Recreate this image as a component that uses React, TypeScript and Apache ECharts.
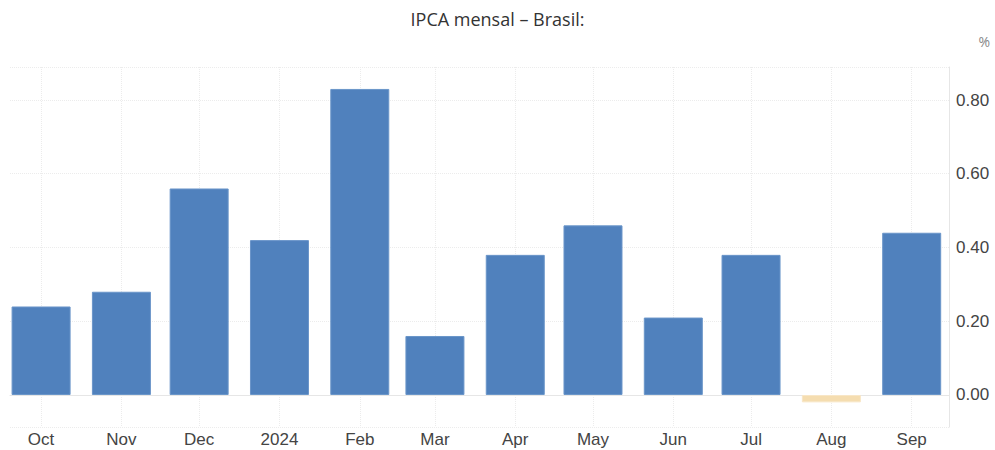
import React, { useEffect, useRef } from "react";
import * as echarts from "echarts";

const monthDates = [
  "2023-10-01", "2023-11-01", "2023-12-01", "2024-01-01", "2024-02-01", "2024-03-01",
  "2024-04-01", "2024-05-01", "2024-06-01", "2024-07-01", "2024-08-01", "2024-09-01",
];
const monthLabels = ["Oct", "Nov", "Dec", "2024", "Feb", "Mar", "Apr", "May", "Jun", "Jul", "Aug", "Sep"];
const ipcaValues = [0.24, 0.28, 0.56, 0.42, 0.83, 0.16, 0.38, 0.46, 0.21, 0.38, -0.02, 0.44];

const titleText = "IPCA mensal – Brasil:";
const unitText = "%";

const toUTC = (s: string) => {
  const [y, m, d] = s.split("-").map(Number);
  return Date.UTC(y, m - 1, d);
};

export default function App() {
  const ref = useRef<HTMLDivElement>(null);
  useEffect(() => {
    document.body.style.margin = "0";
    if (!ref.current) return;
    const chart = echarts.init(ref.current, undefined, { renderer: "svg" });
    const DAY = 86400000;
    const tickTimes = monthDates.map(toUTC);
    const gridLeft = 10;
    const gridRight = 46;
    const barW = 59;
    const plotW = 995 - gridLeft - gridRight;
    // desired visible extent
    const A = tickTimes[0] - 12.0 * DAY;
    const B = tickTimes[tickTimes.length - 1] + 14.4 * DAY;
    // ECharts widens a bar-carrying time axis by half a bar on each side; compensate
    const shift = (B - A) * (barW / 2) / plotW;
    const xMin = A + shift;
    const xMax = B - shift;
    chart.setOption({
      animation: false,
      useUTC: true,
      backgroundColor: "#ffffff",
      title: {
        text: titleText,
        left: "center",
        top: 5,
        textStyle: { fontFamily: "Open Sans", fontSize: 18, fontWeight: "normal", color: "#333333" },
      },
      graphic: [
        {
          type: "text",
          right: 5,
          top: 34,
          style: { text: unitText, fill: "#888888", font: "14px 'Open Sans'" },
        },
      ],
      grid: { left: gridLeft, right: gridRight, top: 67, bottom: 23, containLabel: false },
      xAxis: {
        type: "time",
        min: xMin,
        max: xMax,
        splitNumber: 12,
        axisLine: { show: true, lineStyle: { color: "#e6e6e6", width: 1 } },
        axisTick: { show: false },
        axisLabel: {
          show: true,
          color: "#444444",
          fontFamily: "Liberation Sans",
          fontSize: 17,
          margin: 4,
          showMinLabel: false,
          showMaxLabel: false,
          formatter: (v: number) => {
            const i = tickTimes.indexOf(v);
            return i >= 0 ? monthLabels[i] : "";
          },
        },
        splitLine: {
          show: true,
          showMinLine: false,
          showMaxLine: false,
          lineStyle: { color: "#ececec", type: "dotted", width: 1 },
        },
      },
      yAxis: {
        type: "value",
        position: "right",
        min: -0.0868,
        max: 0.8895,
        splitNumber: 5,
        axisLine: { show: true, lineStyle: { color: "#e6e6e6", width: 1 } },
        axisTick: { show: false },
        axisLabel: {
          color: "#444444",
          fontFamily: "Liberation Sans",
          fontSize: 17,
          margin: 7,
          showMinLabel: false,
          showMaxLabel: false,
          formatter: (v: number) => v.toFixed(2),
        },
        splitLine: { show: true, lineStyle: { color: "#ececec", type: "dotted", width: 1 } },
      },
      series: [
        {
          type: "bar",
          barWidth: barW,
          data: ipcaValues.map((v, i) => ({
            value: [tickTimes[i], v],
            itemStyle: {
              color: v < 0 ? "#f5ddb0" : "#5081bd",
              borderColor: v < 0 ? "#f8e6c6" : "#6a95c9",
              borderWidth: 1,
            },
          })),
        },
      ],
    });
    return () => chart.dispose();
  }, []);
  return <div ref={ref} style={{ width: 995, height: 450 }} />;
}
